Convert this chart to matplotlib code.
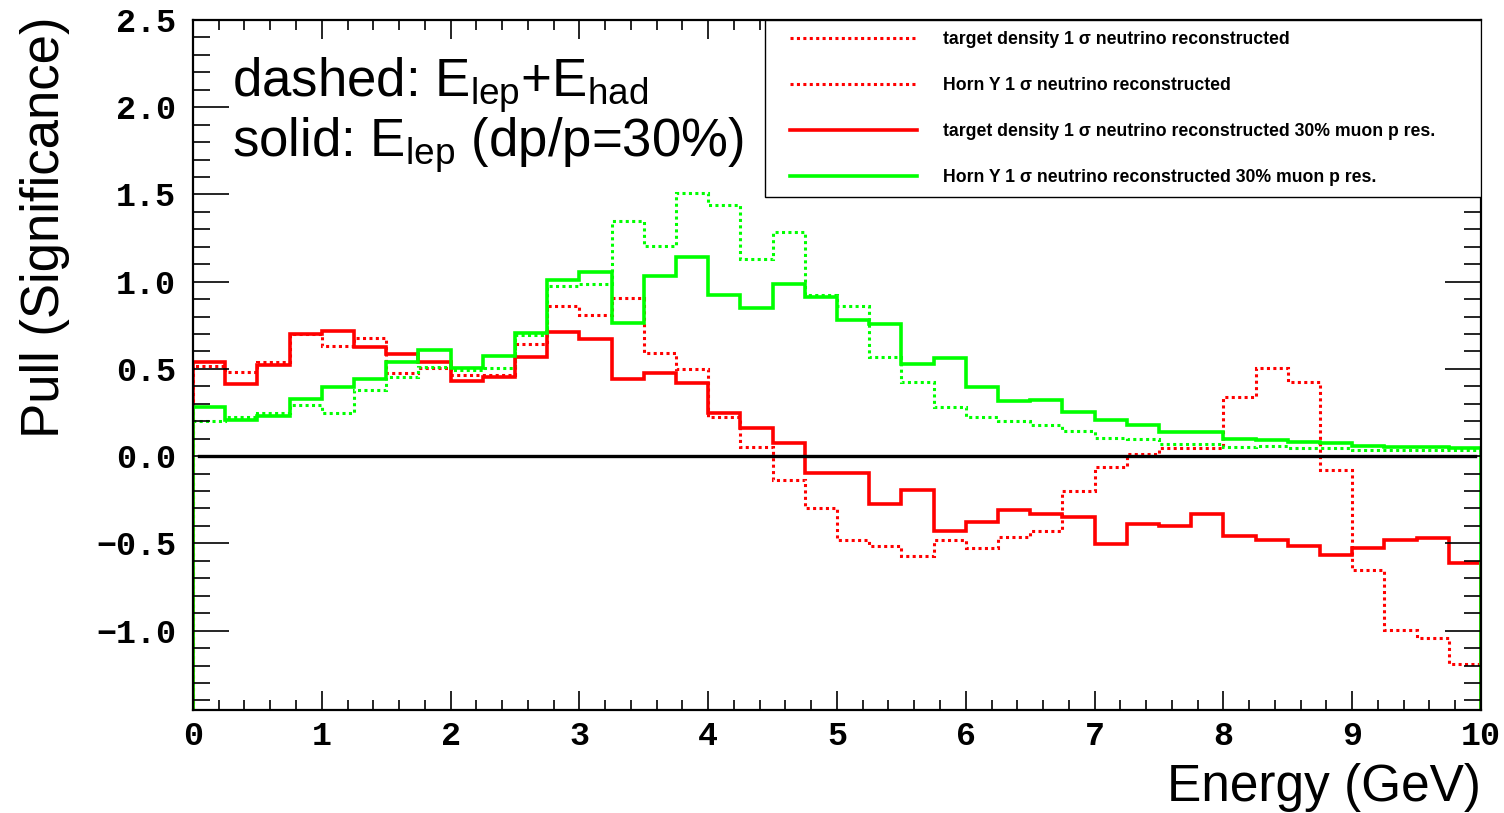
import numpy as np
import matplotlib
matplotlib.use('Agg')
import matplotlib.pyplot as plt
from matplotlib.lines import Line2D
from matplotlib.patches import Rectangle
from matplotlib.ticker import MultipleLocator, FuncFormatter

plt.rcParams['mathtext.fontset'] = 'custom'
plt.rcParams['mathtext.rm'] = 'Liberation Sans'
plt.rcParams['mathtext.it'] = 'Liberation Sans'


# 40 bins of 0.25 GeV from 0 to 10
bin_edges = np.linspace(0.0, 10.0, 41)

# dashed: E_lep + E_had
target_density_reco = [
    0.516, 0.48, 0.539, 0.70, 0.63, 0.675, 0.478, 0.507, 0.463, 0.463,
    0.64, 0.862, 0.808, 0.906, 0.59, 0.501, 0.226, 0.054, -0.134, -0.30,
    -0.478, -0.514, -0.573, -0.478, -0.526, -0.466, -0.43, -0.201, -0.063, 0.011,
    0.044, 0.044, 0.34, 0.503, 0.426, -0.08, -0.654, -0.998, -1.042, -1.193,
]
horn_y_reco = [
    0.203, 0.222, 0.25, 0.292, 0.25, 0.382, 0.451, 0.512, 0.493, 0.508,
    0.692, 0.975, 0.988, 1.35, 1.204, 1.506, 1.439, 1.128, 1.286, 0.923,
    0.862, 0.569, 0.426, 0.283, 0.224, 0.2, 0.176, 0.144, 0.106, 0.096,
    0.069, 0.069, 0.054, 0.057, 0.044, 0.044, 0.038, 0.035, 0.035, 0.035,
]

# solid: E_lep only, 30% muon momentum resolution
target_density_mu30 = [
    0.54, 0.413, 0.52, 0.703, 0.717, 0.623, 0.583, 0.537, 0.428, 0.453,
    0.566, 0.713, 0.671, 0.441, 0.474, 0.417, 0.245, 0.159, 0.076, -0.099,
    -0.094, -0.277, -0.195, -0.43, -0.377, -0.306, -0.334, -0.348, -0.506, -0.389,
    -0.399, -0.329, -0.457, -0.478, -0.516, -0.568, -0.524, -0.478, -0.47, -0.615,
]
horn_y_mu30 = [
    0.283, 0.205, 0.229, 0.325, 0.398, 0.44, 0.539, 0.606, 0.506, 0.575,
    0.707, 1.009, 1.053, 0.761, 1.03, 1.143, 0.925, 0.847, 0.988, 0.91,
    0.778, 0.757, 0.528, 0.564, 0.398, 0.315, 0.323, 0.251, 0.205, 0.177,
    0.139, 0.139, 0.101, 0.092, 0.08, 0.073, 0.057, 0.05, 0.05, 0.044,
]

legend_labels = [
    'target density 1 \u03c3 neutrino reconstructed',
    'Horn Y 1 \u03c3 neutrino reconstructed',
    'target density 1 \u03c3 neutrino reconstructed 30% muon p res.',
    'Horn Y 1 \u03c3 neutrino reconstructed 30% muon p res.',
]

ymin, ymax = -1.455, 2.5
red = '#ff0000'
green = '#00ff00'
dotted = (0, (1.0, 1.1))

fig = plt.figure(figsize=(15.04, 8.13), dpi=100)
ax = fig.add_axes([0.1283, 0.1267, 0.8564, 0.8487])

ax.stairs(target_density_reco, bin_edges, baseline=ymin, color=red, lw=2.2, linestyle=dotted)
ax.stairs(horn_y_reco, bin_edges, baseline=ymin, color=green, lw=2.2, linestyle=dotted)
ax.stairs(target_density_mu30, bin_edges, baseline=ymin, color=red, lw=2.6)
ax.stairs(horn_y_mu30, bin_edges, baseline=ymin, color=green, lw=2.6)

ax.plot([0.05, 9.95], [0, 0], color='black', lw=2.4)

ax.set_xlim(0, 10)
ax.set_ylim(ymin, ymax)

ax.xaxis.set_major_locator(MultipleLocator(1))
ax.xaxis.set_minor_locator(MultipleLocator(0.2))
ax.yaxis.set_major_locator(MultipleLocator(0.5))
ax.yaxis.set_minor_locator(MultipleLocator(0.1))
ax.yaxis.set_major_formatter(FuncFormatter(lambda v, p: ('%.1f' % v).replace('-', '\u2212')))

ax.tick_params(which='both', direction='in', top=True, right=True, width=1.2, color='black')
ax.tick_params(axis='x', which='major', length=14, pad=8)
ax.tick_params(axis='x', which='minor', length=7)
ax.tick_params(axis='y', which='major', length=26, pad=12)
ax.tick_params(axis='y', which='minor', length=12)

for lab in ax.get_xticklabels() + ax.get_yticklabels():
    lab.set_family('Liberation Mono')
    lab.set_fontweight('bold')
    lab.set_fontsize(24)

for sp in ax.spines.values():
    sp.set_linewidth(1.6)

ax.set_xlabel('Energy (GeV)', fontsize=37, family='Liberation Sans', loc='right', labelpad=8)
ax.set_ylabel('Pull (Significance)', fontsize=38, family='Liberation Sans')
ax.yaxis.set_label_coords(-0.0955, 0.699)

ax.text(0.03, 0.889, 'dashed: E$_{\\rm lep}$+E$_{\\rm had}$', transform=ax.transAxes,
        fontsize=38, family='Liberation Sans', va='baseline')
ax.text(0.03, 0.802, 'solid: E$_{\\rm lep}$ (dp/p=30%)', transform=ax.transAxes,
        fontsize=38, family='Liberation Sans', va='baseline')

# legend box drawn separately so the padding matches the original
box = Rectangle((0.444, 0.7435), 0.556, 0.2565, transform=ax.transAxes,
                facecolor='white', edgecolor='black', lw=1.0, zorder=4)
ax.add_patch(box)

handles = [
    Line2D([], [], color=red, lw=2.2, linestyle=dotted),
    Line2D([], [], color=red, lw=2.2, linestyle=dotted),
    Line2D([], [], color=red, lw=2.6),
    Line2D([], [], color=green, lw=2.6),
]
leg = ax.legend(handles, legend_labels, loc='upper left',
                bbox_to_anchor=(0.4635, 0.984), borderaxespad=0, borderpad=0,
                frameon=False, handlelength=7.2, handletextpad=1.5,
                labelspacing=1.64,
                prop={'family': 'Liberation Sans', 'weight': 'bold', 'size': 12.7})
leg.set_zorder(5)

fig.savefig('out.png', dpi=100)
